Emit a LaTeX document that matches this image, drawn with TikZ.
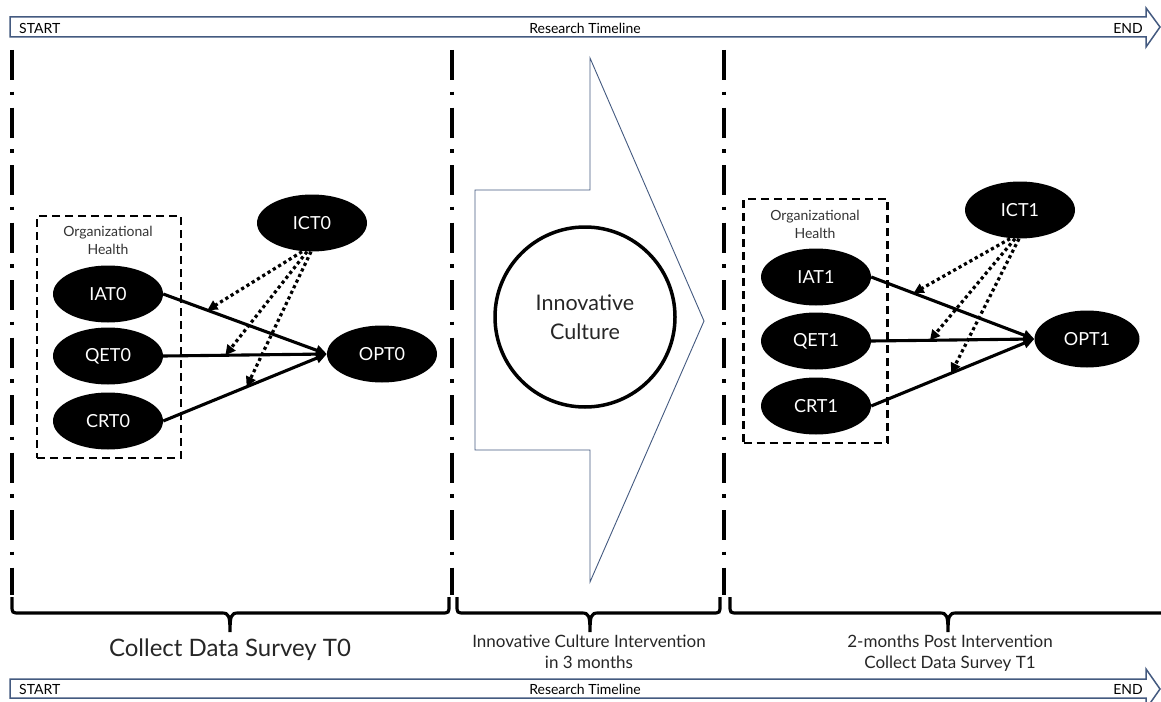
\documentclass[tikz,border=0pt]{standalone}
\usepackage{fontspec}
\setmainfont{Lato}
\usetikzlibrary{arrows.meta,shapes.geometric,calc}
\definecolor{tlblue}{RGB}{68,90,128}
\begin{document}
\begin{tikzpicture}[x=1pt,y=-1pt,
  latent/.style={ellipse,fill=black,text=white,minimum width=110pt,minimum height=57pt,inner sep=0pt,font=\fontsize{18}{20}\selectfont},
  solidarrow/.style={line width=3.1pt,-{Triangle[length=11pt,width=10pt]}},
  dotarrow/.style={line width=3.2pt,dash pattern=on 3.2pt off 3pt,-{Triangle[length=10pt,width=10pt]}},
  divider/.style={line width=3.5pt,dash pattern=on 30pt off 11.5pt on 3.5pt off 12.5pt},
  timeline/.style={draw=tlblue,line width=1.5pt,fill=white},
  bracepath/.style={line width=3.2pt},
  groupbox/.style={draw,line width=2.9pt,dash pattern=on 8pt off 5pt,minimum width=144pt,inner sep=0pt},
  tltext/.style={font=\fontsize{14}{16}\selectfont,inner sep=0pt},
  orgtext/.style={align=center,font=\fontsize{14}{18}\selectfont,text=black!80,inner sep=0pt},
  phasetext/.style={align=center,font=\fontsize{17}{21}\selectfont,text=black!85,inner sep=0pt},
]
\useasboundingbox (0,0) rectangle (1161,701);
\clip (0,0) rectangle (1161,701);

% timelines
\draw[timeline] (10,17) -- (1146,17) -- (1146,8) -- (1160,27) -- (1146,47) -- (1146,37) -- (10,37) -- cycle;
\node[tltext,anchor=west] (start1) at (19,28) {START};
\node[tltext] (rt1) at (585,28) {Research Timeline};
\node[tltext,anchor=east] (end1) at (1143,28) {END};

\draw[timeline] (10,679) -- (1146,679) -- (1146,669) -- (1160,689) -- (1146,709) -- (1146,698) -- (10,698) -- cycle;
\node[tltext,anchor=west] (start2) at (19,689) {START};
\node[tltext] (rt2) at (585,689) {Research Timeline};
\node[tltext,anchor=east] (end2) at (1143,689) {END};

% dividers
\draw[divider] (12,50) -- (12,595);
\draw[divider] (452,50) -- (452,595);
\draw[divider] (724,50) -- (724,595);

% braces
\draw[bracepath] (12,597) -- (12,605) .. controls (12,613) .. (20,613) -- (222,613) .. controls (229,613) and (230,616) .. (230,632) .. controls (230,616) and (231,613) .. (238,613) -- (441,613) .. controls (449,613) .. (449,605) -- (449,597);
\draw[bracepath] (457,597) -- (457,605) .. controls (457,613) .. (465,613) -- (582,613) .. controls (589,613) and (590,616) .. (590,632) .. controls (590,616) and (591,613) .. (598,613) -- (712,613) .. controls (720,613) .. (720,605) -- (720,597);
\draw[bracepath] (730,597) -- (730,605) .. controls (730,613) .. (738,613) -- (940,613) .. controls (947,613) and (948,616) .. (948,632) .. controls (948,616) and (949,613) .. (956,613) -- (1170,613);

\node[align=center,font=\fontsize{24}{28}\selectfont,text=black!85,inner sep=0pt] (ph0) at (230,650) {Collect Data Survey T0};
\node[phasetext] (ph1) at (589,652) {Innovative Culture Intervention\\in 3 months};
\node[phasetext] (ph2) at (950,653) {2-months Post Intervention\\Collect Data Survey T1};

% intervention arrow
\draw[draw=tlblue,line width=0.9pt,fill=white] (475,190) -- (590,190) -- (590,58) -- (704,321) -- (590,582) -- (590,450) -- (475,450) -- cycle;
\node[circle,draw,line width=3.5pt,minimum size=180pt,inner sep=0pt,align=center,font=\fontsize{21.5}{29}\selectfont,text=black!85] (IC) at (585,317) {Innovative\\Culture};

% T0 group
\node[groupbox,minimum height=242pt] (box0) at (109,337) {};
\node[orgtext] (oh0) at (108,240) {Organizational\\Health};
\node[latent] (IAT0) at (108,294) {IAT0};
\node[latent] (QET0) at (108,356) {QET0};
\node[latent] (CRT0) at (108,421) {CRT0};
\node[latent] (ICT0) at (312,223) {ICT0};
\node[latent] (OPT0) at (382,354) {OPT0};
\draw[solidarrow] (IAT0.east) -- (OPT0.west);
\draw[solidarrow] (QET0.east) -- (OPT0.west);
\draw[solidarrow] (CRT0.east) -- (OPT0.west);
\coordinate (a0) at ($(IAT0.east)!0.27!(OPT0.west)$);
\coordinate (b0) at ($(QET0.east)!0.38!(OPT0.west)$);
\coordinate (c0) at ($(CRT0.east)!0.51!(OPT0.west)$);
\draw[dotarrow] ([xshift=-10pt]ICT0.south) -- (a0);
\draw[dotarrow] ([xshift=-5pt]ICT0.south) -- (b0);
\draw[dotarrow] ([xshift=-1pt]ICT0.south) -- (c0);

% T1 group
\node[groupbox,minimum height=244pt] (box1) at (815.5,321) {};
\node[orgtext] (oh1) at (815,224) {Organizational\\Health};
\node[latent] (IAT1) at (816,277) {IAT1};
\node[latent] (QET1) at (816,341) {QET1};
\node[latent] (CRT1) at (816,406) {CRT1};
\node[latent] (ICT1) at (1020,210) {ICT1};
\node[latent,minimum width=105pt] (OPT1) at (1087,339) {OPT1};
\draw[solidarrow] (IAT1.east) -- (OPT1.west);
\draw[solidarrow] (QET1.east) -- (OPT1.west);
\draw[solidarrow] (CRT1.east) -- (OPT1.west);
\coordinate (a1) at ($(IAT1.east)!0.26!(OPT1.west)$);
\coordinate (b1) at ($(QET1.east)!0.36!(OPT1.west)$);
\coordinate (c1) at ($(CRT1.east)!0.49!(OPT1.west)$);
\draw[dotarrow] ([xshift=-10pt]ICT1.south) -- (a1);
\draw[dotarrow] ([xshift=-5pt]ICT1.south) -- (b1);
\draw[dotarrow] ([xshift=-1pt]ICT1.south) -- (c1);
\end{tikzpicture}
\end{document}
